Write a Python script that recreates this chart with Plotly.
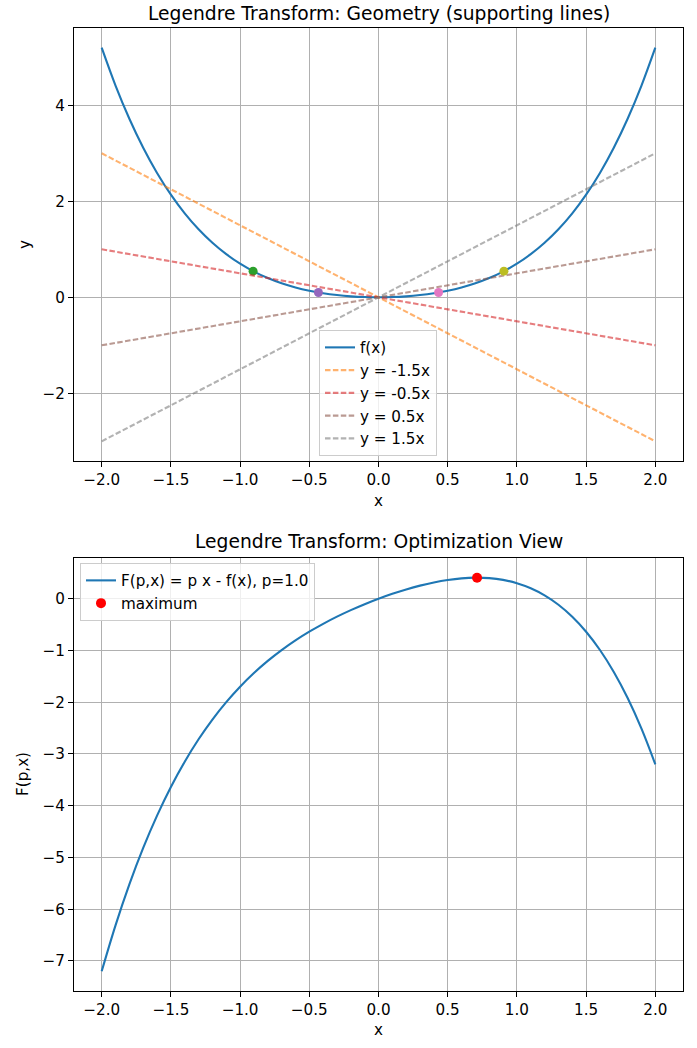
import plotly.graph_objects as go

# ---- data ----
x_vals = [-2.0, -1.9, -1.8, -1.7, -1.6, -1.5, -1.4, -1.3, -1.2, -1.1, -1.0,
          -0.9, -0.8, -0.7, -0.6, -0.5, -0.4, -0.3, -0.2, -0.1, 0.0,
          0.1, 0.2, 0.3, 0.4, 0.5, 0.6, 0.7, 0.8, 0.9, 1.0,
          1.1, 1.2, 1.3, 1.4, 1.5, 1.6, 1.7, 1.8, 1.9, 2.0]
f_vals = [5.2, 4.4114, 3.7195, 3.1154, 2.5907, 2.1375, 1.7483, 1.4162, 1.1347, 0.8978, 0.7,
          0.5362, 0.4019, 0.2930, 0.2059, 0.1375, 0.0851, 0.0466, 0.0203, 0.0050, 0.0,
          0.0050, 0.0203, 0.0466, 0.0851, 0.1375, 0.2059, 0.2930, 0.4019, 0.5362, 0.7,
          0.8978, 1.1347, 1.4162, 1.7483, 2.1375, 2.5907, 3.1154, 3.7195, 4.4114, 5.2]
F_vals = [-7.2, -6.3114, -5.5195, -4.8154, -4.1907, -3.6375, -3.1483, -2.7162, -2.3347, -1.9978, -1.7,
          -1.4362, -1.2019, -0.9930, -0.8059, -0.6375, -0.4851, -0.3466, -0.2203, -0.1050, 0.0,
          0.0950, 0.1797, 0.2534, 0.3149, 0.3625, 0.3941, 0.4070, 0.3981, 0.3638, 0.3,
          0.2022, 0.0653, -0.1162, -0.3483, -0.6375, -0.9907, -1.4154, -1.9195, -2.5114, -3.2]

line_labels = ["y = -1.5x", "y = -0.5x", "y = 0.5x", "y = 1.5x"]
line_x_ends = [-2.0, 2.0]
line_y_start = [3.0, 1.0, -1.0, -3.0]
line_y_end = [-3.0, -1.0, 1.0, 3.0]
line_colors = ["rgba(255,127,14,0.6)", "rgba(214,39,40,0.6)", "rgba(140,86,75,0.6)", "rgba(127,127,127,0.6)"]

touch_x = [-0.906, -0.434, 0.434, 0.906]
touch_y = [0.545, 0.101, 0.101, 0.545]
touch_colors = ["#2ca02c", "#9467bd", "#e377c2", "#bcbd22"]

max_x = [0.712]
max_y = [0.407]

x_ticks = [-2.0, -1.5, -1.0, -0.5, 0.0, 0.5, 1.0, 1.5, 2.0]

# ---- layout geometry ----
W, H = 697, 1048
L, R, T, B = 74, 14, 28, 57
PH = H - T - B
def py(p):
    return (H - B - p) / PH
def px(p):
    return (p - L) / (W - L - R)

FONT = "DejaVu Sans"
FS = 15.2
TS = 18.7
fig = go.Figure()

fig.add_trace(go.Scatter(x=x_vals, y=f_vals, mode="lines", name="f(x)",
                         line=dict(color="#1f77b4", width=2.1, shape="spline"),
                         xaxis="x", yaxis="y", legend="legend", legendgroup="a"))
for i, lab in enumerate(line_labels):
    fig.add_trace(go.Scatter(x=line_x_ends, y=[line_y_start[i], line_y_end[i]], mode="lines",
                             name=lab, line=dict(color=line_colors[i], width=2.1, dash="5.5px,2.4px"),
                             xaxis="x", yaxis="y", legend="legend", legendgroup="l%d" % i))
    fig.add_trace(go.Scatter(x=[touch_x[i]], y=[touch_y[i]], mode="markers", showlegend=False,
                             marker=dict(color=touch_colors[i], size=9),
                             xaxis="x", yaxis="y"))

fig.add_trace(go.Scatter(x=x_vals, y=F_vals, mode="lines", name="F(p,x) = p x - f(x), p=1.0",
                         line=dict(color="#1f77b4", width=2.1, shape="spline"),
                         xaxis="x2", yaxis="y2", legend="legend2", legendgroup="b1"))
fig.add_trace(go.Scatter(x=max_x, y=max_y, mode="markers", name="maximum",
                         marker=dict(color="#ff0000", size=10),
                         xaxis="x2", yaxis="y2", legend="legend2", legendgroup="b2"))

axis_common = dict(showline=True, mirror=True, linecolor="black", linewidth=1,
                   ticks="outside", ticklen=5, tickcolor="black", tickwidth=1,
                   showgrid=True, gridcolor="#b0b0b0", gridwidth=0.8, zeroline=False,
                   tickfont=dict(family=FONT, size=FS, color="black"))

top_dom = [1 - 433 / PH, 1]
bot_dom = [0, 433 / PH]

fig.update_layout(
    width=W, height=H, margin=dict(l=L, r=R, t=T, b=B),
    paper_bgcolor="white", plot_bgcolor="white",
    font=dict(family=FONT, color="black"),
    xaxis=dict(domain=[0, 1], anchor="y", range=[-2.2, 2.2], tickvals=x_ticks,
               tickformat=".1f", **axis_common),
    yaxis=dict(domain=top_dom, anchor="x", range=[-3.41, 5.61], tickvals=[-2, 0, 2, 4],
               **axis_common),
    xaxis2=dict(domain=[0, 1], anchor="y2", range=[-2.2, 2.2], tickvals=x_ticks,
                tickformat=".1f", **axis_common),
    yaxis2=dict(domain=bot_dom, anchor="x2", range=[-7.58, 0.787],
                tickvals=[-7, -6, -5, -4, -3, -2, -1, 0], **axis_common),
    legend=dict(x=px(378), y=py(456), xanchor="center", yanchor="bottom",
                bgcolor="rgba(255,255,255,0.8)", bordercolor="#cccccc", borderwidth=1,
                font=dict(family=FONT, size=FS, color="black"),
                traceorder="grouped", tracegroupgap=0, itemwidth=30),
    legend2=dict(x=px(80), y=py(563), xanchor="left", yanchor="top",
                 bgcolor="rgba(255,255,255,0.8)", bordercolor="#cccccc", borderwidth=1,
                 font=dict(family=FONT, size=FS, color="black"),
                 traceorder="grouped", tracegroupgap=0, itemwidth=30),
    showlegend=True,
)

annots = [
    dict(text="Legendre Transform: Geometry (supporting lines)", x=0.5, y=py(13),
         font=dict(size=TS)),
    dict(text="Legendre Transform: Optimization View", x=0.5, y=py(541), font=dict(size=TS)),
    dict(text="x", x=0.5, y=py(501), font=dict(size=FS)),
    dict(text="x", x=0.5, y=py(1030), font=dict(size=FS)),
    dict(text="y", x=px(25), y=py(245), textangle=-90, font=dict(size=FS)),
    dict(text="F(p,x)", x=px(23), y=py(774), textangle=-90, font=dict(size=FS)),
]
for a in annots:
    a.update(xref="paper", yref="paper", showarrow=False, xanchor="center", yanchor="middle")
    a["font"].update(family=FONT, color="black")
fig.update_layout(annotations=annots)

fig.write_html("out.html")
